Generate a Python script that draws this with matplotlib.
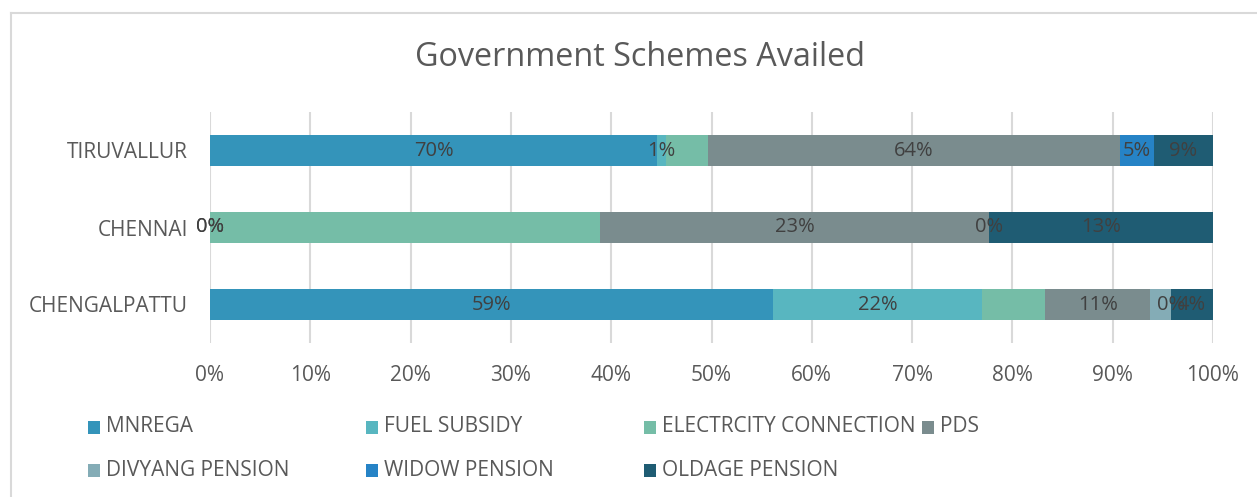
import matplotlib

matplotlib.use("Agg")
import matplotlib.pyplot as plt
import numpy as np
from matplotlib.lines import Line2D
from matplotlib.patches import Rectangle
from matplotlib.ticker import PercentFormatter

# raw survey shares per district (bars are normalised to 100%, labels show raw values)
districts = ["CHENGALPATTU", "CHENNAI", "TIRUVALLUR"]
schemes = ["MNREGA", "FUEL SUBSIDY", "ELECTRCITY CONNECTION", "PDS",
           "DIVYANG PENSION", "WIDOW PENSION", "OLDAGE PENSION"]
mnrega = [59, 0, 70]
fuel_subsidy = [22, 0, 1.4]
electricity = [6.6, 23, 6.6]
pds = [11, 23, 64.4]
divyang = [2.2, 0, 0]
widow = [0, 0, 5.3]
oldage = [4.4, 13.2, 9.3]
# electricity / divyang series carry no data labels in the original
labelled = [True, True, False, True, False, True, True]

colors = ["#3494BA", "#58B6C0", "#75BDA7", "#7A8C8E", "#84ACB6", "#2683C6", "#1F5C73"]
TEXT = "#595959"
GRID = "#D9D9D9"

plt.rcParams["font.family"] = ["Open Sans", "DejaVu Sans"]

W, H = 1257, 497
fig = plt.figure(figsize=(W / 100, H / 100), dpi=100)
ax = fig.add_axes([210 / W, 1 - 343 / H, (1213 - 210) / W, (343 - 112) / H])

series = np.array([mnrega, fuel_subsidy, electricity, pds, divyang, widow, oldage], dtype=float)
totals = series.sum(axis=0)
y = np.arange(len(districts))
left = np.zeros(len(districts))
for name, raw, col, show in zip(schemes, series, colors, labelled):
    share = raw / totals * 100
    bars = ax.barh(y, share, left=left, height=0.39, color=col, label=name, zorder=2)
    if show:
        ax.bar_label(bars, labels=[f"{v:.0f}%" for v in raw], label_type="center",
                     color="#404040", fontsize=14.5, zorder=3)
    left += share

ax.set_xlim(0, 100)
ax.set_ylim(-0.5, len(districts) - 0.5)
ax.set_xticks(np.arange(0, 101, 10))
ax.xaxis.set_major_formatter(PercentFormatter(decimals=0))
ax.set_yticks(y)
ax.set_yticklabels(districts)
ax.tick_params(axis="both", length=0, colors=TEXT, labelsize=15)
ax.tick_params(axis="x", pad=15.5)
ax.tick_params(axis="y", pad=16)
ax.grid(axis="x", color=GRID, linewidth=1.5, zorder=0)
ax.set_axisbelow(True)
for s in ax.spines.values():
    s.set_visible(False)

fig.text(640 / W, 1 - 58 / H, "Government Schemes Availed", ha="center", va="center",
         fontsize=23.3, color=TEXT)

# chart frame (only top and left edges are inside the crop)
fig.add_artist(Line2D([11 / W, 1], [1 - 13 / H] * 2, color=GRID, linewidth=1.5))
fig.add_artist(Line2D([11 / W] * 2, [0, 1 - 13 / H], color=GRID, linewidth=1.5))

# legend, four fixed-width columns like Excel
for i, (name, col) in enumerate(zip(schemes, colors)):
    x0 = 88 + (i % 4) * 278
    yc = 427 + (i // 4) * 43
    fig.add_artist(Rectangle((x0 / W, 1 - (yc + 6.5) / H), 12 / W, 13 / H,
                             facecolor=col, edgecolor="none", transform=fig.transFigure))
    fig.text((x0 + 18) / W, 1 - yc / H, name, ha="left", va="center",
             fontsize=15, color=TEXT)

fig.savefig("out.png", dpi=100)
